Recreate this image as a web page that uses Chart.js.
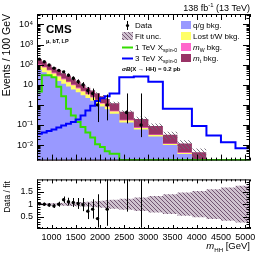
<!DOCTYPE html>
<html>
<head>
<meta charset="utf-8">
<script src="https://cdn.jsdelivr.net/npm/chart.js@4.4.0/dist/chart.umd.min.js"></script>
<style>
html, body { margin: 0; padding: 0; background: #fff; }
#wrap { position: relative; width: 266px; height: 256px; }
#top { position: absolute; left: 0; top: 0; }
#bot { position: absolute; left: 0; top: 170px; }
</style>
</head>
<body>
<div id="wrap">
<canvas id="top" width="266" height="170"></canvas>
<canvas id="bot" width="266" height="86"></canvas>
</div>
<script>
// données
const binEdges = [700,800,900,1000,1100,1200,1300,1400,1500,1600,1700,1800,1900,2000,2100,2200,2400,2700,3000,3300,3600,3900,4200,4500,4800,5100];

// fonds (événements / 100 GeV), jusqu'à 4200 GeV
const qgBkg  = [56,42,30,21.6,15.6,11.1,8.1,5.9,4.2,3.0,2.2,1.6,1.15,0.82,0.6,0.36,0.135,0.06,0.027,0.010,0.0036,0.0014];
const lostTW = [40.7,30.8,21,15.1,10.4,7.4,5.1,3.5,2.4,1.6,1.08,0.73,0.49,0.32,0.21,0.11,0.032,0.012,0.0045,0.0013,0.0005,0.00018];
const mWBkg  = [9.3,7,5,3.6,2.6,1.8,1.3,0.95,0.65,0.45,0.32,0.22,0.16,0.11,0.08,0.045,0.016,0.006,0.0025,0.0008,0.0003,0.0001];
const mtBkg  = [79,60.2,44,31.7,23.4,16.7,12.5,9.15,6.75,4.95,3.6,2.65,2.0,1.45,1.06,0.685,0.267,0.122,0.056,0.0209,0.0076,0.0028];
const fitUnc = [0.04,0.04,0.05,0.05,0.05,0.06,0.07,0.07,0.08,0.09,0.1,0.11,0.12,0.14,0.16,0.18,0.22,0.27,0.33,0.4,0.47,0.53,0.6,0.67,0.74];

// signaux
const sig1TeV = [4.6,30,30,24,8,2.7,0.64,0.3,0.14,0.08,0.042,0.024,0.011,0.008,0.005,0.0037,0.0018,0.0018,0.0018,0.0018,0.0018,0.0018,0.0018,0.0018,0.0018];
const sig3TeV = [0.037,0.042,0.05,0.06,0.075,0.095,0.115,0.14,0.19,0.3,0.52,0.9,1.55,2.15,2.7,3.7,24,26,14,0.64,0.64,0.09,0.03,0.014,0.007];

// données
const dataMass = [750,850,950,1050,1150,1250,1350,1450,1550,1650,1750,1850,1950,2150,2550,2850];
const dataVal  = [188,140,97,67,52,44,30,21,14.5,10,5.2,3.7,1.0,1.0,0.42,0.1];
const dataLo   = [174,128,88,59,45,37,25,16.5,11,7,3.3,1.7,0.14,0.17,0.12,0.025];
const dataHi   = [202,152,107,75,59,51,36,26,18.5,13.5,7.8,6.5,3.7,3.3,3.7,3.7];
const ratioVal = [1.02,1.0,0.97,0.93,1.0,1.18,1.1,1.07,1.03,0.98,0.72,0.8,0.42,0.8,4.0,2.6];
const ratioLo  = [0.97,0.94,0.9,0.85,0.9,1.05,0.95,0.89,0.81,0.72,0.4,0.42,0.06,0.13,0.7,0.05];
const ratioHi  = [1.07,1.06,1.04,1.01,1.1,1.31,1.26,1.25,1.25,1.25,1.05,1.2,1.4,2.6,10,10];

// axes
const xTicks = [1000,1500,2000,2500,3000,3500,4000,4500,5000];
const xMinorStep = 100;
const yTicksTop = [0.01,0.1,1,10,100,1000,10000];
const yLabelsTop = ['10\u207B\u00B2','10\u207B\u00B9','1','10','10\u00B2','10\u00B3','10\u2074'];
const yTicksRatio = [0.5,1,1.5];

const FONT = "'Liberation Sans', Arial, sans-serif";

// helpers
function stepPts(vals) {
    const pts = vals.map((v, i) => ({ x: binEdges[i], y: v }));
    pts.push({ x: binEdges[vals.length], y: vals[vals.length - 1] });
    return pts;
}
function hatch(line, bg) {
    const c = document.createElement('canvas');
    c.width = 4; c.height = 4;
    const g = c.getContext('2d');
    if (bg) { g.fillStyle = bg; g.fillRect(0, 0, 4, 4); }
    g.strokeStyle = line; g.lineWidth = 1;
    g.beginPath();
    g.moveTo(0, 0); g.lineTo(4, 4);
    g.moveTo(-2, 2); g.lineTo(2, 6);
    g.moveTo(2, -2); g.lineTo(6, 2);
    g.stroke();
    return g.createPattern(c, 'repeat');
}
function rich(ctx, parts, x, y, size, align, bold) {
    const w0 = bold ? 'bold ' : '';
    const fontFor = (p) => {
        const s = (p[1] === 'sub' || p[1] === 'sup') ? size * 0.65 : size;
        const it = p[2] ? 'italic ' : '';
        return it + w0 + s + 'px ' + FONT;
    };
    let w = 0;
    parts.forEach(p => { ctx.font = fontFor(p); w += ctx.measureText(p[0]).width; });
    let cx = align === 'right' ? x - w : x;
    ctx.textAlign = 'left';
    parts.forEach(p => {
        ctx.font = fontFor(p);
        const dy = p[1] === 'sub' ? size * 0.3 : (p[1] === 'sup' ? -size * 0.4 : 0);
        ctx.fillText(p[0], cx, y + dy);
        cx += ctx.measureText(p[0]).width;
    });
}

// cumuls du stack
const cum1 = qgBkg.slice();
const cum2 = cum1.map((v, i) => v + lostTW[i]);
const cum3 = cum2.map((v, i) => v + mWBkg[i]);
const total = cum3.map((v, i) => v + mtBkg[i]);
const uncUp = total.map((v, i) => v * (1 + fitUnc[i]));
const uncDn = total.map((v, i) => v * (1 - fitUnc[i]));
const ratUp = fitUnc.map(u => 1 + u);
const ratDn = fitUnc.map(u => 1 - u);

const patTop = hatch('rgba(110,100,115,0.9)', null);
const patRatio = hatch('#735573', '#cfc2cf');

// cadre + graduations internes (style ROOT)
function framePlugin(o) {
    return {
        id: 'frame',
        afterDraw(chart) {
            const { ctx, chartArea: a, scales } = chart;
            const xs = scales.x, ys = scales.y;
            ctx.save();
            ctx.strokeStyle = '#000';
            ctx.lineWidth = 1;
            ctx.beginPath();
            for (let v = xs.min; v <= xs.max; v += xMinorStep) {
                const px = Math.round(xs.getPixelForValue(v)) + 0.5;
                const len = xTicks.includes(v) ? o.xMajor : o.xMinor;
                ctx.moveTo(px, a.bottom); ctx.lineTo(px, a.bottom - len);
                ctx.moveTo(px, a.top); ctx.lineTo(px, a.top + len);
            }
            o.yTicks(ys).forEach(([v, major]) => {
                const py = Math.round(ys.getPixelForValue(v)) + 0.5;
                const len = major ? o.yMajor : o.yMinor;
                ctx.moveTo(a.left, py); ctx.lineTo(a.left + len, py);
                ctx.moveTo(a.right, py); ctx.lineTo(a.right - len, py);
            });
            ctx.stroke();
            ctx.strokeRect(a.left + 0.5, a.top + 0.5, a.right - a.left - 1, a.bottom - a.top - 1);
            ctx.restore();
        }
    };
}

// points de données avec barres d'erreur
function errPlugin(vals, lo, hi) {
    return {
        id: 'errbars',
        afterDatasetsDraw(chart) {
            const { ctx, chartArea: a, scales } = chart;
            ctx.save();
            ctx.beginPath();
            ctx.rect(a.left, a.top, a.right - a.left, a.bottom - a.top);
            ctx.clip();
            ctx.strokeStyle = '#000';
            ctx.lineWidth = 1;
            ctx.beginPath();
            dataMass.forEach((m, i) => {
                const px = Math.round(scales.x.getPixelForValue(m)) + 0.5;
                ctx.moveTo(px, scales.y.getPixelForValue(lo[i]));
                ctx.lineTo(px, scales.y.getPixelForValue(hi[i]));
            });
            ctx.stroke();
            ctx.restore();
        }
    };
}

const logMinor = (ys) => {
    const out = [];
    for (let e = -3; e <= 4; e++) {
        for (let k = 1; k <= 9; k++) {
            const v = k * Math.pow(10, e);
            if (v >= ys.min && v <= ys.max) out.push([v, k === 1]);
        }
    }
    return out;
};
const linMinor = (ys) => {
    const out = [];
    for (let i = 1; i < 20; i++) out.push([i / 10, i % 5 === 0]);
    return out;
};

// textes et légende
const textPlugin = {
    id: 'texts',
    afterDraw(chart) {
        const ctx = chart.ctx;
        ctx.save();
        ctx.fillStyle = '#000';
        ctx.textBaseline = 'alphabetic';
        rich(ctx, [['138 fb'], ['-1', 'sup'], [' (13 TeV)']], 250, 11, 9, 'right');
        ctx.font = 'bold 11.5px ' + FONT;
        ctx.fillText('CMS', 46, 33);
        rich(ctx, [['\u03BC, bT, LP']], 46, 43, 5.5, 'left', true);

        // axe y
        ctx.save();
        ctx.translate(10, 14);
        ctx.rotate(-Math.PI / 2);
        ctx.font = '10.5px ' + FONT;
        ctx.textAlign = 'right';
        ctx.fillText('Events / 100 GeV', 0, 0);
        ctx.restore();

        // légende colonne 1
        const lx = 135, rx = 193, fs = 8;
        ctx.strokeStyle = '#000'; ctx.lineWidth = 1;
        ctx.beginPath(); ctx.moveTo(127.5, 21); ctx.lineTo(127.5, 30); ctx.stroke();
        ctx.beginPath(); ctx.arc(127.5, 25.5, 1.6, 0, Math.PI * 2); ctx.fill();
        rich(ctx, [['Data']], lx, 28, fs, 'left');
        ctx.fillStyle = patRatio; ctx.fillRect(122, 32, 11, 8);
        ctx.fillStyle = '#000';
        rich(ctx, [['Fit unc.']], lx, 39, fs, 'left');
        ctx.lineWidth = 2;
        ctx.strokeStyle = '#33dd00';
        ctx.beginPath(); ctx.moveTo(122, 47.5); ctx.lineTo(133, 47.5); ctx.stroke();
        rich(ctx, [['1 TeV X'], ['spin-0', 'sub']], lx, 50, fs, 'left');
        ctx.strokeStyle = '#0000ff';
        ctx.beginPath(); ctx.moveTo(122, 58.5); ctx.lineTo(133, 58.5); ctx.stroke();
        rich(ctx, [['3 TeV X'], ['spin-0', 'sub']], lx, 61, fs, 'left');
        rich(ctx, [['\u03C3', '', true], ['B', '', true], ['(X \u2192 HH) = 0.2 pb']], 122, 71, 6, 'left', true);

        // légende colonne 2
        const boxes = [['#9999ff', 21], ['#ffff66', 32], ['#ff66cc', 43], ['#993366', 54]];
        boxes.forEach(([c, y]) => { ctx.fillStyle = c; ctx.fillRect(181, y, 10, 8); });
        ctx.fillStyle = '#000';
        rich(ctx, [['q/g bkg.']], rx, 28, fs, 'left');
        rich(ctx, [['Lost t/W bkg.']], rx, 39, fs, 'left');
        rich(ctx, [['m', '', true], ['W', 'sub'], [' bkg.']], rx, 50, fs, 'left');
        rich(ctx, [['m', '', true], ['t', 'sub'], [' bkg.']], rx, 61, fs, 'left');
        ctx.restore();
    }
};

const ratioText = {
    id: 'rtexts',
    afterDraw(chart) {
        const ctx = chart.ctx;
        ctx.save();
        ctx.fillStyle = '#000';
        ctx.save();
        ctx.translate(10, 27);
        ctx.rotate(-Math.PI / 2);
        ctx.font = '8.5px ' + FONT;
        ctx.textAlign = 'center';
        ctx.fillText('Data / fit', 0, 0);
        ctx.restore();
        rich(ctx, [['m', '', true], ['HH', 'sub'], [' [GeV]']], 250, 79, 9.5, 'right');
        ctx.restore();
    }
};

const area = (vals, color, order) => ({
    data: stepPts(vals), stepped: true, borderWidth: 0, pointRadius: 0,
    backgroundColor: color, fill: 'start', order: order
});

new Chart(document.getElementById('top'), {
    type: 'line',
    data: {
        datasets: [
            area(total, '#993366', 10),
            area(cum3, '#ff66cc', 9),
            area(cum2, '#ffff66', 8),
            area(cum1, '#9999ff', 7),
            { data: stepPts(uncDn), stepped: true, borderWidth: 0, pointRadius: 0, fill: false, order: 6 },
            { data: stepPts(uncUp), stepped: true, borderWidth: 0, pointRadius: 0, fill: '-1', backgroundColor: patTop, order: 5 },
            { data: stepPts(sig1TeV), stepped: true, borderWidth: 2, borderColor: '#33dd00', pointRadius: 0, fill: false, order: 3 },
            { data: stepPts(sig3TeV), stepped: true, borderWidth: 2, borderColor: '#0000ff', pointRadius: 0, fill: false, order: 2 },
            { type: 'scatter', data: dataMass.map((m, i) => ({ x: m, y: dataVal[i] })), pointRadius: 1.7,
              pointBackgroundColor: '#000', pointBorderWidth: 0, order: 1 }
        ]
    },
    options: {
        responsive: false, animation: false, devicePixelRatio: 1,
        layout: { padding: { left: 0, right: 16, top: 14, bottom: 3 } },
        plugins: { legend: { display: false }, tooltip: { enabled: false } },
        scales: {
            x: { type: 'linear', min: 700, max: 5100, display: false },
            y: {
                type: 'logarithmic', min: 0.0017, max: 33000,
                grid: { display: false, drawTicks: false }, border: { display: false },
                ticks: { padding: 4, color: '#000', font: { family: FONT, size: 9 }, autoSkip: false,
                         callback: (v, i) => yLabelsTop[i] },
                afterBuildTicks: s => { s.ticks = yTicksTop.map(v => ({ value: v })); },
                afterFit: s => { s.width = 37; }
            }
        }
    },
    plugins: [errPlugin(dataVal, dataLo, dataHi), framePlugin({ xMajor: 6, xMinor: 3, yMajor: 7, yMinor: 3.5, yTicks: logMinor }), textPlugin]
});

new Chart(document.getElementById('bot'), {
    type: 'line',
    data: {
        datasets: [
            { data: stepPts(ratDn), stepped: true, borderWidth: 0, pointRadius: 0, fill: false, order: 6 },
            { data: stepPts(ratUp), stepped: true, borderWidth: 0, pointRadius: 0, fill: '-1', backgroundColor: patRatio, order: 5 },
            { type: 'scatter', data: dataMass.map((m, i) => ({ x: m, y: ratioVal[i] })), pointRadius: 1.7,
              pointBackgroundColor: '#000', pointBorderWidth: 0, order: 1 }
        ]
    },
    options: {
        responsive: false, animation: false, devicePixelRatio: 1,
        layout: { padding: { left: 0, right: 16, top: 3, bottom: 0 } },
        plugins: { legend: { display: false }, tooltip: { enabled: false } },
        scales: {
            x: {
                type: 'linear', min: 700, max: 5100,
                grid: { display: false, drawTicks: false }, border: { display: false },
                ticks: { padding: 3, color: '#000', font: { family: FONT, size: 9 }, autoSkip: false, maxRotation: 0,
                         callback: v => String(v) },
                afterBuildTicks: s => { s.ticks = xTicks.map(v => ({ value: v })); },
                afterFit: s => { s.height = 27; }
            },
            y: {
                type: 'linear', min: 0, max: 2,
                grid: { display: false, drawTicks: false }, border: { display: false },
                ticks: { padding: 4, color: '#000', font: { family: FONT, size: 9 }, autoSkip: false,
                         callback: v => String(v) },
                afterBuildTicks: s => { s.ticks = yTicksRatio.map(v => ({ value: v })); },
                afterFit: s => { s.width = 37; }
            }
        }
    },
    plugins: [errPlugin(ratioVal, ratioLo, ratioHi), framePlugin({ xMajor: 4, xMinor: 2, yMajor: 7, yMinor: 3.5, yTicks: linMinor }), ratioText]
});
</script>
</body>
</html>
